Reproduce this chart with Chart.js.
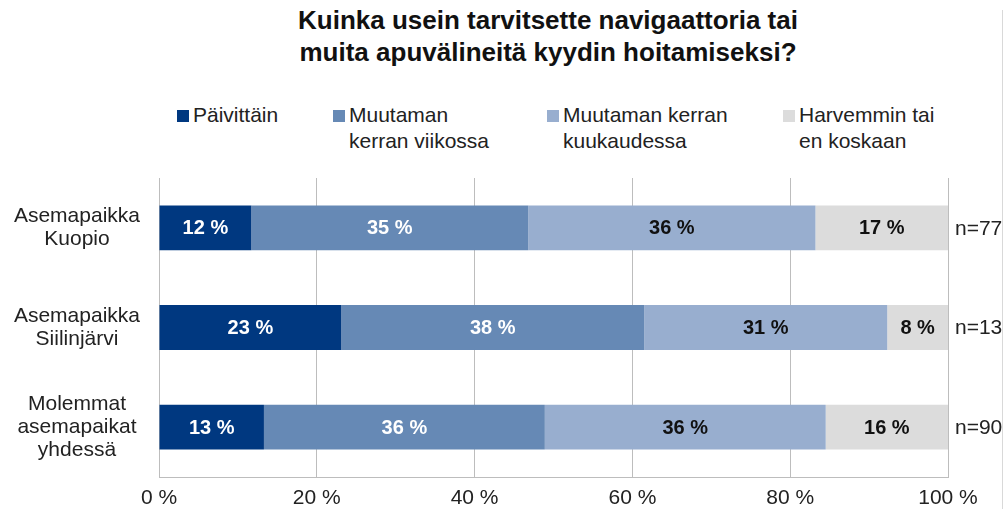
<!DOCTYPE html>
<html>
<head>
<meta charset="utf-8">
<script src="https://cdn.jsdelivr.net/npm/chart.js@4/dist/chart.umd.min.js"></script>
<style>
  html, body { margin: 0; padding: 0; background: #fff; }
  body { width: 1007px; height: 509px; position: relative; overflow: hidden; font-family: "Liberation Sans", Arial, sans-serif; }
  #wrap { position: absolute; left: 0; top: 0; width: 1007px; height: 509px; }
  .title { position: absolute; left: 248px; width: 600px; top: 4px; text-align: center; font-weight: bold; font-size: 26px; line-height: 32px; color: #111; white-space: nowrap; }
  .legend { position: absolute; top: 102px; font-size: 21px; line-height: 26px; color: #222; white-space: nowrap; }
  .legend .sw { position: absolute; left: -16px; top: 8px; width: 12px; height: 12px; }
  .edge { position: absolute; left: 1002px; top: 10px; width: 1px; height: 499px; background: #d9d9d9; }
</style>
</head>
<body>
<div class="title">Kuinka usein tarvitsette navigaattoria tai<br>muita apuvälineitä kyydin hoitamiseksi?</div>
<div id="legend"></div>
<div class="edge"></div>
<div id="wrap"><canvas id="c" width="1007" height="509"></canvas></div>
<script>
// ---------- Data ----------
const categories = [["Asemapaikka", "Kuopio"], ["Asemapaikka", "Siilinjärvi"], ["Molemmat", "asemapaikat", "yhdessä"]];
const nLabels = ["n=77", "n=13", "n=90"];
const seriesNames = [["Päivittäin"], ["Muutaman", "kerran viikossa"], ["Muutaman kerran", "kuukaudessa"], ["Harvemmin tai", "en koskaan"]];
const daily = [11.7, 23.1, 13.3];
const weekly = [35.1, 38.4, 35.6];
const monthly = [36.4, 30.8, 35.6];
const rarely = [16.8, 7.7, 15.5];
const xTicks = [0, 20, 40, 60, 80, 100];
const COLORS = ["#003880", "#6689b5", "#98aecf", "#dcdcdc"];
const LABEL_COLORS = ["#fff", "#fff", "#111", "#111"];
const legendX = [193, 349, 563, 799];

const FONT = "Liberation Sans";

// ---------- Legend (html) ----------
document.getElementById("legend").innerHTML = seriesNames.map((s, i) => `
  <div class="legend" style="left:${legendX[i]}px">
    <span class="sw" style="background:${COLORS[i]}"></span>${s.join("<br>")}
  </div>`).join("");

// ---------- Plugins ----------
const barLabels = {
  id: "barLabels",
  afterDatasetsDraw(chart) {
    const ctx = chart.ctx;
    ctx.save();
    ctx.font = `bold 20px "${FONT}"`;
    ctx.textAlign = "center";
    ctx.textBaseline = "middle";
    chart.data.datasets.forEach((ds, i) => {
      chart.getDatasetMeta(i).data.forEach((bar, j) => {
        const x = (bar.x + bar.base) / 2;
        ctx.fillStyle = LABEL_COLORS[i];
        ctx.fillText(Math.round(ds.data[j]) + " %", x, bar.y + 1);
      });
    });
    // n labels right of the bars
    ctx.font = `21px "${FONT}"`;
    ctx.textAlign = "left";
    ctx.fillStyle = "#222";
    const yScale = chart.scales.y;
    nLabels.forEach((n, j) => {
      ctx.fillText(n, chart.chartArea.right + 7, yScale.getPixelForValue(j) + 1);
    });
    ctx.restore();
  },
};

// ---------- Chart ----------
const mk = (label, data, i) => ({
  label, data, backgroundColor: COLORS[i], borderWidth: 0,
  barPercentage: 0.9, categoryPercentage: 0.5,
});

new Chart(document.getElementById("c"), {
  type: "bar",
  data: {
    labels: categories,
    datasets: [
      mk(seriesNames[0].join(" "), daily, 0),
      mk(seriesNames[1].join(" "), weekly, 1),
      mk(seriesNames[2].join(" "), monthly, 2),
      mk(seriesNames[3].join(" "), rarely, 3),
    ],
  },
  options: {
    indexAxis: "y",
    responsive: false,
    animation: false,
    layout: { padding: { left: 0, right: 59, top: 178, bottom: 0 } },
    plugins: { legend: { display: false }, title: { display: false }, tooltip: { enabled: false } },
    scales: {
      x: {
        stacked: true, min: 0, max: 100,
        afterBuildTicks: (s) => { s.ticks = xTicks.map((v) => ({ value: v })); },
        afterFit: (s) => { s.height = 32; s.paddingLeft = 0; s.paddingRight = 0; },
        ticks: { color: "#222", font: { family: FONT, size: 21 }, padding: 9, callback: (v) => v + " %" },
        grid: { color: "#bdbdbd", lineWidth: 1, drawTicks: false },
        border: { color: "#bdbdbd" },
      },
      y: {
        stacked: true,
        afterFit: (s) => { s.width = 159; s.paddingTop = 0; s.paddingBottom = 0; },
        ticks: { color: "#222", font: { family: FONT, size: 21, lineHeight: 1.1 }, crossAlign: "center", padding: 19 },
        grid: { display: false, drawTicks: false },
        border: { color: "#bdbdbd" },
      },
    },
  },
  plugins: [barLabels],
});
</script>
</body>
</html>
